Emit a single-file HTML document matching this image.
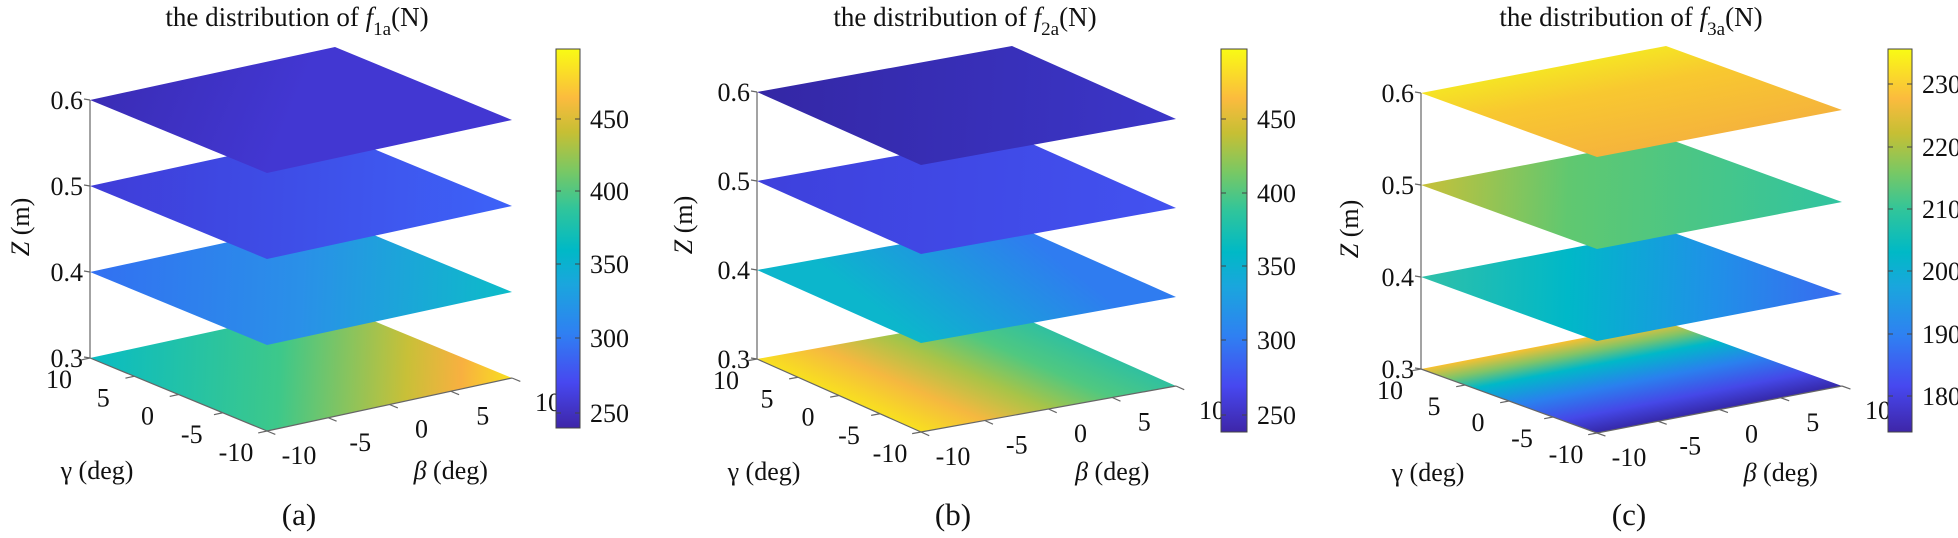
<!DOCTYPE html>
<html><head><meta charset="utf-8">
<style>
html,body{margin:0;padding:0;background:#fff;}
svg{display:block;}
text{font-family:"Liberation Serif","Times New Roman",serif;}
</style></head>
<body>
<svg id="s" width="1958" height="538" viewBox="0 0 1958 538" xmlns="http://www.w3.org/2000/svg" font-family="Liberation Serif, serif">
<defs>
<linearGradient id="parula" x1="0" y1="1" x2="0" y2="0">
<stop offset="0" stop-color="#3e26a8"/><stop offset="0.12" stop-color="#4748f0"/>
<stop offset="0.25" stop-color="#2f80f2"/><stop offset="0.38" stop-color="#1aa6dd"/>
<stop offset="0.47" stop-color="#00b9c6"/><stop offset="0.58" stop-color="#31c59a"/>
<stop offset="0.68" stop-color="#7ac863"/><stop offset="0.78" stop-color="#c6bf34"/>
<stop offset="0.87" stop-color="#fbbb3e"/><stop offset="1" stop-color="#f9fb14"/>
</linearGradient>
</defs>
</svg>
<script>
var NS="http://www.w3.org/2000/svg",svg=document.getElementById('s'),defs=svg.querySelector('defs');
function el(t,a,p,txt){var e=document.createElementNS(NS,t);for(var k in a)e.setAttribute(k,a[k]);
 if(t=='text')e.setAttribute('font-family','Liberation Serif, Times New Roman, serif');
 if(txt!==undefined)e.textContent=String(txt);(p||svg).appendChild(e);return e;}
var gid=0;
function grad(x1,y1,x2,y2,stops){var id='g'+(gid++);var g=el('linearGradient',{id:id,gradientUnits:'userSpaceOnUse',x1:x1,y1:y1,x2:x2,y2:y2},defs);
stops.forEach(function(s){el('stop',{offset:s[0],'stop-color':s[1]},g);});return 'url(#'+id+')';}
var panels=[
{ax:90,y6:100,sp:86,B:[177,73],T:[245,-53],cb:[556,24,49,428],ticks:[[450,119],[400,191],[350,264],[300,338],[250,413]],
 title:297,sub:'1a',zl:[20,227],lab:'(a)',
 planes:[
 ['LB',[[0,'#3a2cb5'],[1,'#4237d2']]],
 ['LR',[[0,'#3f3cd8'],[1,'#3d62f8']]],
 ['LR',[[0,'#3270f2'],[0.5,'#2a90e8'],[1,'#0cbcc8']]],
 ['LR',[[0,'#08bcc4'],[0.45,'#3dc88a'],[0.75,'#c8c038'],[0.88,'#f8b040'],[1,'#f8e020']]]]},
{ax:757,y6:92,sp:89,B:[164,73],T:[255,-46],cb:[1221,26,49,432],ticks:[[450,119],[400,193],[350,266],[300,340],[250,415]],
 title:965,sub:'2a',zl:[683,225],lab:'(b)',
 planes:[
 ['LR',[[0,'#3427a5'],[1,'#3b36c8']]],
 ['LR',[[0,'#3e40dc'],[1,'#4252f0']]],
 ['TB',[[0,'#2f7cf0'],[1,'#0cb6cc']]],
 ['PLB',[[0,'#f8e020'],[0.25,'#f5b840'],[0.5,'#a8c448'],[0.75,'#50c880'],[1,'#30c0a0']]]]},
{ax:1421,y6:93,sp:92,B:[176,64],T:[245,-47],cb:[1888,24,49,432],ticks:[[230,84],[220,147],[210,209],[200,271],[190,334],[180,396]],
 title:1631,sub:'3a',zl:[1349,229],lab:'(c)',
 planes:[
 ['PLT',[[0,'#f5e424'],[0.35,'#f8c830'],[1,'#f5b43c']]],
 ['LR',[[0,'#c8c038'],[0.35,'#60c870'],[1,'#30c4a0']]],
 ['LR',[[0,'#30c0a8'],[0.35,'#00b8c8'],[0.7,'#2090e8'],[1,'#3a6af0']]],
 ['PLT',[[0,'#f8c030'],[0.15,'#80c468'],[0.3,'#00b8c8'],[0.55,'#2a80ee'],[0.8,'#4548e8'],[1,'#3528a8']]]]}
];
var tk='#666';
panels.forEach(function(p){
 var B=p.B,T=p.T,R=[B[0]+T[0],B[1]+T[1]];
 for(var i=3;i>=0;i--){
  var Lx=p.ax,Ly=p.y6+i*p.sp;
  var pts=[[Lx,Ly],[Lx+T[0],Ly+T[1]],[Lx+R[0],Ly+R[1]],[Lx+B[0],Ly+B[1]]];
  var m=p.planes[i][0],st=p.planes[i][1],f;
  if(m=='LR')f=grad(Lx,Ly,Lx+R[0],Ly+R[1],st);
  else if(m=='LB')f=grad(Lx,Ly,Lx+B[0],Ly+B[1],st);
  else if(m=='TB')f=grad(Lx+T[0],Ly+T[1],Lx+B[0],Ly+B[1],st);
  else if(m=='PLB'){
   var n=Math.hypot(B[0],B[1]),px=B[1]/n,py=-B[0]/n,d=T[0]*px+T[1]*py;
   f=grad(Lx+B[0],Ly+B[1],Lx+B[0]+px*d,Ly+B[1]+py*d,st);}
  else {
   var n2=Math.hypot(T[0],T[1]),qx=-T[1]/n2,qy=T[0]/n2,d2=B[0]*qx+B[1]*qy;
   f=grad(Lx,Ly,Lx+qx*d2,Ly+qy*d2,st);}
  el('polygon',{points:pts.map(function(q){return q.join(',')}).join(' '),fill:f});
 }
 var y3=p.y6+3*p.sp;
 el('line',{x1:p.ax,y1:p.y6,x2:p.ax,y2:y3,stroke:tk,'stroke-width':1.2});
 ['0.6','0.5','0.4','0.3'].forEach(function(t,i){var y=p.y6+i*p.sp;
  el('line',{x1:p.ax-6,y1:y-1,x2:p.ax,y2:y,stroke:tk,'stroke-width':1.2});
  el('text',{x:p.ax-7,y:y+9,'font-size':26,'text-anchor':'end',fill:'#111'},null,t);});
 var L3=[p.ax,y3],B3=[p.ax+B[0],y3+B[1]],R3=[p.ax+R[0],y3+R[1]];
 el('line',{x1:L3[0],y1:L3[1],x2:B3[0],y2:B3[1],stroke:tk,'stroke-width':1.2});
 el('line',{x1:B3[0],y1:B3[1],x2:R3[0],y2:R3[1],stroke:tk,'stroke-width':1.2});
 var tn=Math.hypot(T[0],T[1]),tx=-T[0]/tn*9,ty=-T[1]/tn*9;
 var bn=Math.hypot(B[0],B[1]),bx=B[0]/bn*9,by=B[1]/bn*9;
 var gl=['10','5','0','-5','-10'],bl=['-10','-5','0','5','10'];
 for(var k=0;k<5;k++){var f1=k/4;
  var gx=L3[0]+B[0]*f1,gy=L3[1]+B[1]*f1;
  el('line',{x1:gx,y1:gy,x2:gx+tx,y2:gy+ty,stroke:tk,'stroke-width':1.2});
  el('text',{x:gx-31,y:gy+30,'font-size':26,'text-anchor':'middle',fill:'#111'},null,gl[k]);
  var qx2=B3[0]+T[0]*f1,qy2=B3[1]+T[1]*f1;
  el('line',{x1:qx2,y1:qy2,x2:qx2+bx,y2:qy2+by,stroke:tk,'stroke-width':1.2});
  el('text',{x:qx2+32+(k==4?4:0),y:qy2+33,'font-size':26,'text-anchor':'middle',fill:'#111'},null,bl[k]);
 }
 el('text',{x:p.ax+7,y:y3+B[1]+48,'font-size':26,'text-anchor':'middle',fill:'#111'},null,'γ (deg)');
 var bt=el('text',{x:B3[0]+T[0]*0.75,y:y3+B[1]+48,'font-size':26,'text-anchor':'middle',fill:'#111'});
 el('tspan',{'font-style':'italic'},bt,'β');el('tspan',{},bt,' (deg)');
 el('text',{x:B3[0]+32,y:525,'font-size':31,'text-anchor':'middle',fill:'#111'},null,p.lab);
 var zt=el('text',{x:0,y:0,'font-size':26,'text-anchor':'middle',fill:'#111',transform:'translate('+(p.zl[0]+9)+','+p.zl[1]+') rotate(-90)'});
 el('tspan',{'font-style':'italic'},zt,'Z');el('tspan',{},zt,' (m)');
 var tt=el('text',{x:p.title,y:26,'font-size':27,'text-anchor':'middle',fill:'#111'});
 el('tspan',{},tt,'the distribution of ');el('tspan',{'font-style':'italic'},tt,'f');
 el('tspan',{'font-size':19,dy:9},tt,p.sub);el('tspan',{dy:-9},tt,'(N)');
 var c=p.cb;
 el('rect',{x:c[0],y:c[2],width:c[1],height:c[3]-c[2],fill:'url(#parula)',stroke:'#444','stroke-width':1});
 p.ticks.forEach(function(t){
  el('line',{x1:c[0],y1:t[1],x2:c[0]+5,y2:t[1],stroke:'#444','stroke-width':1});
  el('line',{x1:c[0]+c[1]-5,y1:t[1],x2:c[0]+c[1],y2:t[1],stroke:'#444','stroke-width':1});
  el('text',{x:c[0]+c[1]+10,y:t[1]+9,'font-size':26,fill:'#111'},null,t[0]);});
});
</script>
</body></html>
